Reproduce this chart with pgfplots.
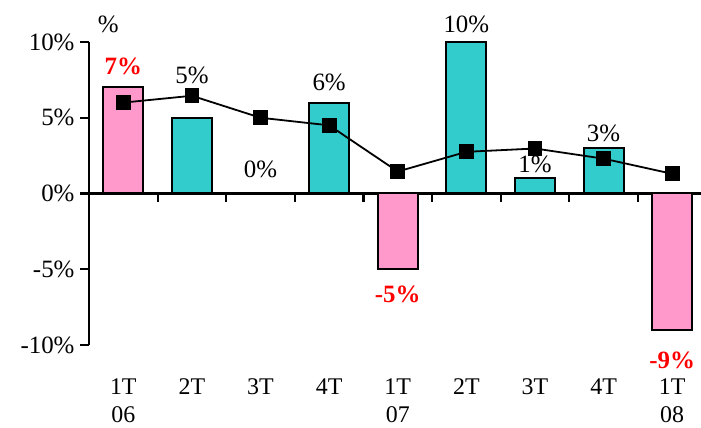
\documentclass[border=0pt]{standalone}
\usepackage{fontspec}
\setmainfont{Liberation Serif}
\usepackage{pgfplots}
\pgfplotsset{compat=1.18}
\usepackage{pgfplotstable}

\definecolor{pinkbar}{HTML}{FF99CC}
\definecolor{tealbar}{HTML}{33CCCC}
\newcommand\bigfont{\fontsize{25}{29}\selectfont}

% negative/first-of-year quarters (pink, red labels)
\pgfplotstableread{
x y dy
0 7 12
4 -5 -16
8 -9 -21
}\pinkdata
% other quarters
\pgfplotstableread{
x y dy
1 5 33
2 0 15
3 6 11
5 10 8
6 1 5
7 3 5
}\tealdata
% line series
\pgfplotstableread{
x y
0 6.0
1 6.45
2 5.0
3 4.5
4 1.45
5 2.75
6 2.97
7 2.3
8 1.3
}\linedata

\begin{document}
\begin{tikzpicture}
\useasboundingbox (0,0) rectangle (701bp,428bp);
\begin{axis}[
    at={(89bp,83bp)}, anchor=south west,
    scale only axis, width=612bp, height=303bp,
    xmin=-0.5, xmax=8.42, ymin=-10, ymax=10,
    axis y line*=left, axis x line*=bottom,
    x axis line style={draw=none},
    y axis line style={line width=2.2bp},
    ytick={-10,-5,0,5,10},
    tick align=outside, major tick length=9bp,
    y tick style={line width=2.2bp, black},
    yticklabel={\pgfmathprintnumber{\tick}\%},
    yticklabel style={font=\bigfont, xshift=-2bp},
    xtick={0,...,8},
    x tick style={draw=none},
    xticklabels={{1T\\06},2T,3T,4T,{1T\\07},2T,3T,4T,{1T\\08}},
    xticklabel style={align=center, font=\fontsize{24}{28}\selectfont, yshift=-21bp},
    /pgf/number format/assume math mode=true,
    clip=false,
]
\draw[line width=2.2bp] (axis cs:-0.5,0) -- (axis cs:8.42,0);
\pgfplotsinvokeforeach{-0.5,0.5,1.5,2.5,3.5,4.5,5.5,6.5,7.5}{
    \draw[line width=2.2bp] (axis cs:#1,0) -- ([yshift=-9bp]axis cs:#1,0);
}
\addplot[ybar, bar width=40bp, bar shift=0pt, fill=pinkbar, draw=black, line width=2bp,
    visualization depends on={\thisrow{dy} \as \dy},
    nodes near coords={\pgfmathprintnumber{\pgfplotspointmeta}\%},
    every node near coord/.append style={font=\bigfont\bfseries, text=red, inner sep=0pt, yshift=\dy*1bp},
] table[x=x, y=y] {\pinkdata};
\addplot[ybar, bar width=40bp, bar shift=0pt, fill=tealbar, draw=black, line width=2bp,
    visualization depends on={\thisrow{dy} \as \dy},
    nodes near coords={\pgfmathprintnumber{\pgfplotspointmeta}\%},
    every node near coord/.append style={font=\bigfont, text=black, inner sep=0pt, yshift=\dy*1bp},
] table[x=x, y=y] {\tealdata};
\addplot[black, line width=1.8bp, mark=square*, mark size=6.5bp, mark options={solid}]
    table[x=x, y=y] {\linedata};
\node[font=\bigfont] at (axis cs:-0.22,11.15) {\%};
\end{axis}
\end{tikzpicture}
\end{document}
